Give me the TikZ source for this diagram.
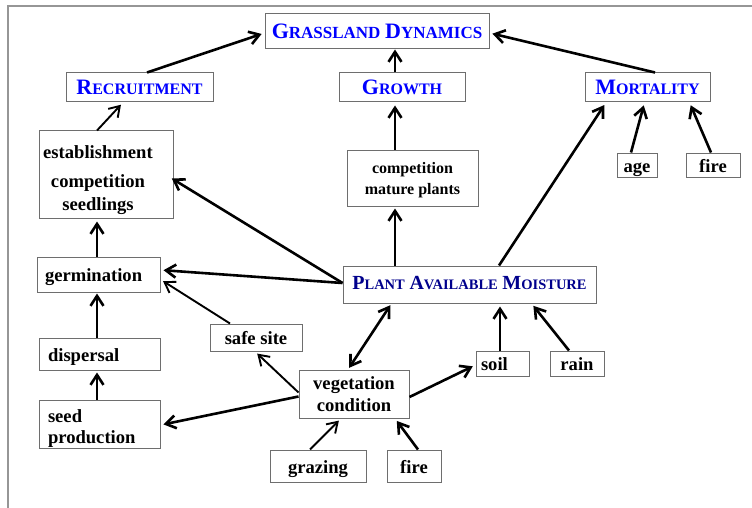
\documentclass[tikz,border=0pt]{standalone}
\usepackage{fontspec}
\setmainfont{Liberation Serif}
\usetikzlibrary{arrows.meta}
\definecolor{ttlblue}{RGB}{0,0,255}
\definecolor{pamblue}{RGB}{0,0,140}
\definecolor{boxgray}{RGB}{110,110,110}
\definecolor{framegray}{RGB}{150,150,150}
\newcommand{\fsz}[2]{\fontsize{#1}{#2}\selectfont}
\newcommand{\SCw}[4]{{\fsz{#3}{#3}#1}{\fsz{#4}{#4}#2}}
\tikzset{
  bx/.style={draw=boxgray, line width=1pt, inner sep=0pt, font=\bfseries\fsz{18.6}{22}},
  sl/.style={text height=14pt, text depth=0pt},
  ttl/.style={bx, text=ttlblue},
  thk/.style={line width=2.6pt, -{Straight Barb[length=10pt,width=13pt]}, shorten >=3pt},
  thn/.style={line width=1.9pt, -{Straight Barb[length=10pt,width=13pt]}, shorten >=3pt},
}
\begin{document}
\begin{tikzpicture}[x=1pt,y=-1pt]
\useasboundingbox (0,0) rectangle (752,508);
\draw[framegray, line width=1.5pt] (8,508) -- (8,6) -- (752,6);
% title nodes
\node[ttl, minimum width=224pt, minimum height=35pt] (gd) at (377,31.5)
  {\SCw{G}{RASSLAND}{22}{17} \SCw{D}{YNAMICS}{22}{17}};
\node[ttl, minimum width=147pt, minimum height=29pt] (rec) at (139.5,87.5)
  {\SCw{R}{ECRUITMENT}{22}{16}};
\node[ttl, minimum width=126pt, minimum height=29pt] (gro) at (402,87.5)
  {\SCw{G}{ROWTH}{22}{16}};
\node[ttl, minimum width=125pt, minimum height=29pt] (mor) at (647.5,87.5)
  {\SCw{M}{ORTALITY}{22}{16}};
\node[bx, text=pamblue, text depth=3pt, minimum width=253pt, minimum height=37pt] (pam) at (469.5,284.5)
  {\SCw{P}{LANT}{20}{14.5} \SCw{A}{VAILABLE}{20}{14.5} \SCw{M}{OISTURE}{20}{14.5}};
% black boxes
\node[bx, minimum width=134pt, minimum height=87pt] (est) at (106,174.5) {};
\node[font=\bfseries\fsz{18.6}{21}, align=center, inner sep=0pt] (estlabel) at (98,180)
  {establishment\\[8pt]competition\\[2pt]seedlings};
\node[bx, font=\bfseries\fsz{16}{21}, align=center, minimum width=131pt, minimum height=56pt] (cmp) at (412.5,178)
  {\rule{0pt}{15pt}competition\\mature plants};
\node[bx, sl, minimum width=40pt, minimum height=24pt] (age) at (637,165) {age};
\node[bx, sl, minimum width=54pt, minimum height=24pt] (fire1) at (713,165) {fire};
\node[bx, sl, minimum width=123pt, minimum height=35pt, inner xsep=8pt, text width=107pt, align=left] (ger) at (98.5,274.5) {germination};
\node[bx, sl, minimum width=92pt, minimum height=27pt] (safe) at (256,337.5) {safe site};
\node[bx, sl, minimum width=121pt, minimum height=32pt, inner xsep=9pt, text width=103pt, align=left] (disp) at (99.5,354) {dispersal};
\node[bx, minimum width=110pt, minimum height=48pt, align=center] (veg) at (354,394) {vegetation\\condition};
\node[bx, sl, minimum width=53pt, minimum height=25pt, inner xsep=5pt, text width=43pt, align=left] (soil) at (502.5,363.5) {soil};
\node[bx, sl, minimum width=54pt, minimum height=25pt] (rain) at (577,363.5) {rain};
\node[bx, font=\bfseries\fsz{18.6}{21}, minimum width=121pt, minimum height=48pt, inner xsep=9pt, text width=103pt, align=left] (seed) at (99.5,424) {\rule{0pt}{22pt}seed\\production};
\node[bx, sl, minimum width=96pt, minimum height=32pt] (graz) at (318,466) {grazing};
\node[bx, sl, minimum width=54pt, minimum height=32pt] (fire2) at (414,466) {fire};
% connectors
\draw[thk] ([xshift=7.5pt]rec.north) -- ([yshift=-1.5pt]gd.west);
\draw[thk, shorten >=0pt] ([xshift=-7pt]gro.north) -- ([xshift=18pt]gd.south);
\draw[thk] ([xshift=7.5pt]mor.north) -- ([yshift=-1.5pt]gd.east);
\draw[thn] ([xshift=-9pt]est.north) -- ([xshift=-16.5pt]rec.south);
\draw[thk] ([xshift=-17.5pt]cmp.north) -- ([xshift=-7pt]gro.south);
\draw[thk] ([xshift=-6pt]age.north) -- ([xshift=-3pt]mor.south);
\draw[thk] ([xshift=-2pt]fire1.north) -- ([xshift=42pt]mor.south);
\draw[thk] ([xshift=29.5pt]pam.north) -- ([xshift=-41.5pt]mor.south);
\draw[thk, shorten >=2pt] ([xshift=-74.5pt]pam.north) -- ([xshift=-17.5pt]cmp.south);
\draw[thk, shorten >=-2pt] ([yshift=1.5pt]pam.west) -- ([yshift=-5pt]est.east);
\draw[thk] ([yshift=1.5pt]pam.west) -- ([yshift=4.5pt]ger.east);
\draw[thn] ([xshift=-26pt]safe.north) -- ([yshift=-5pt]ger.east);
\draw[thk] ([xshift=-1.5pt]ger.north) -- ([xshift=-9pt]est.south);
\draw[thk, shorten >=1pt] ([xshift=-2.5pt]disp.north) -- ([xshift=-1.5pt]ger.south);
\draw[thk, shorten >=2pt] ([xshift=-2.5pt]seed.north) -- ([xshift=-2.5pt]disp.south);
\draw[thk] ([yshift=-2.5pt]veg.west) -- ([yshift=-1pt]seed.east);
\draw[thn] ([yshift=1.5pt]veg.west) -- ([xshift=-1pt]safe.south);
\draw[thk, {Straight Barb[length=10pt,width=13pt]}-{Straight Barb[length=10pt,width=13pt]}, shorten <=2pt, shorten >=2pt] ([xshift=-78pt]pam.south) -- ([xshift=-6pt]veg.north);
\draw[thk] ([yshift=-3pt]veg.east) -- ([yshift=-1.5pt]soil.west);
\draw[thk] ([xshift=-2.5pt]soil.north) -- ([xshift=30.5pt]pam.south);
\draw[thk] ([xshift=-8pt]rain.north) -- ([xshift=62pt]pam.south);
\draw[thn] ([xshift=-8pt]graz.north) -- ([xshift=-13pt]veg.south);
\draw[thk] ([xshift=4pt]fire2.north) -- ([xshift=41pt]veg.south);
\end{tikzpicture}
\end{document}
